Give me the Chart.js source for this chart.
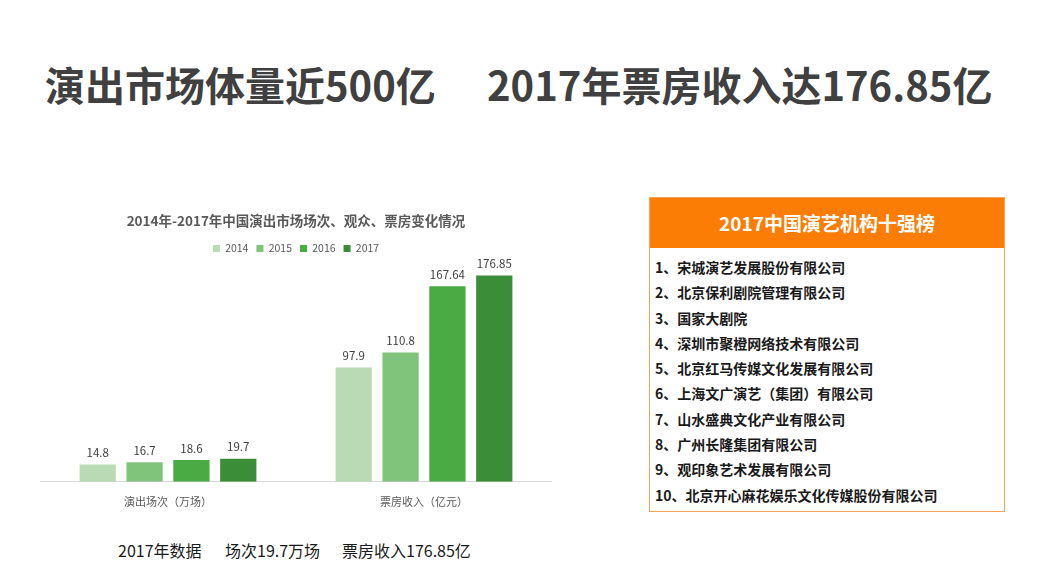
<!DOCTYPE html>
<html>
<head>
<meta charset="utf-8">
<script src="https://cdn.jsdelivr.net/npm/chart.js@4/dist/chart.umd.min.js"></script>
<style>
  body { margin: 0; width: 1047px; height: 581px; background: #fff; position: relative; overflow: hidden;
         font-family: "Noto Sans CJK SC", "Noto Sans", sans-serif; }
  .headline { position: absolute; top: 56px; font-size: 40px; font-weight: bold; color: #404040;
              white-space: nowrap; line-height: 56px; }
  #chartBox { position: absolute; left: 40px; top: 205px; width: 512px; height: 308px; }
  #rank { position: absolute; left: 649px; top: 197px; width: 354px; height: 313px; border: 1px solid #f5a25d; }
  #rank .head { background: #fb7d05; color: #fff; height: 50px; line-height: 50px; text-align: center;
                font-size: 19px; font-weight: bold; }
  #rank ol { list-style: none; margin: 0; padding: 7px 0 0 5px; }
  #rank li { font-size: 14px; font-weight: bold; color: #1a1a1a; height: 25.3px; line-height: 25.3px; white-space: nowrap; }
  .foot { position: absolute; top: 537px; font-size: 16px; color: #1a1a1a; white-space: nowrap; line-height: 26px; }
</style>
</head>
<body>
<div class="headline" style="left:45px">演出市场体量近500亿</div>
<div class="headline" style="left:487px">2017年票房收入达176.85亿</div>
<div id="chartBox"><canvas id="c"></canvas></div>
<div id="rank">
  <div class="head">2017中国演艺机构十强榜</div>
  <ol id="rankList"></ol>
</div>
<div class="foot" style="left:118px">2017年数据</div>
<div class="foot" style="left:225px">场次19.7万场</div>
<div class="foot" style="left:342px">票房收入176.85亿</div>
<script>
const categories = ["演出场次（万场）", "票房收入（亿元）"];
const years = ["2014", "2015", "2016", "2017"];
const values2014 = [14.8, 97.9];
const values2015 = [16.7, 110.8];
const values2016 = [18.6, 167.64];
const values2017 = [19.7, 176.85];
const yearColors = ["#b9dbb3", "#80c47b", "#4aaa44", "#3b8e37"];
const topTen = [
  "1、宋城演艺发展股份有限公司",
  "2、北京保利剧院管理有限公司",
  "3、国家大剧院",
  "4、深圳市聚橙网络技术有限公司",
  "5、北京红马传媒文化发展有限公司",
  "6、上海文广演艺（集团）有限公司",
  "7、山水盛典文化产业有限公司",
  "8、广州长隆集团有限公司",
  "9、观印象艺术发展有限公司",
  "10、北京开心麻花娱乐文化传媒股份有限公司"
];

const list = document.getElementById("rankList");
topTen.forEach(t => {
  const li = document.createElement("li");
  li.textContent = t;
  list.appendChild(li);
});

const seriesValues = [values2014, values2015, values2016, values2017];

// value labels above each bar
const barLabels = {
  id: "barLabels",
  afterDatasetsDraw(chart) {
    const ctx = chart.ctx;
    ctx.save();
    ctx.font = "11.5px 'Noto Sans CJK SC', sans-serif";
    ctx.fillStyle = "#404040";
    ctx.textAlign = "center";
    ctx.textBaseline = "bottom";
    chart.data.datasets.forEach((ds, i) => {
      chart.getDatasetMeta(i).data.forEach((bar, j) => {
        ctx.fillText(String(ds.data[j]), bar.x, bar.y - 6);
      });
    });
    ctx.restore();
  }
};

new Chart(document.getElementById("c"), {
  type: "bar",
  data: {
    labels: categories,
    datasets: years.map((y, i) => ({
      label: y,
      data: seriesValues[i],
      backgroundColor: yearColors[i],
      barPercentage: 0.774,
      categoryPercentage: 0.732
    }))
  },
  options: {
    responsive: true,
    maintainAspectRatio: false,
    animation: false,
    layout: { padding: { left: 0, right: 0, top: 0, bottom: 0 } },
    plugins: {
      tooltip: { enabled: false },
      title: {
        display: true,
        text: "2014年-2017年中国演出市场场次、观众、票房变化情况",
        color: "#595959",
        font: { size: 13.5, weight: "bold", family: "Noto Sans CJK SC" },
        padding: { top: 8, bottom: 6 }
      },
      legend: {
        display: true,
        labels: {
          boxWidth: 7,
          boxHeight: 7,
          color: "#595959",
          font: { size: 10.5, family: "Noto Sans CJK SC" },
          padding: 8
        }
      }
    },
    scales: {
      x: {
        grid: { display: false },
        border: { color: "#d9d9d9" },
        ticks: { color: "#595959", font: { size: 11, family: "Noto Sans CJK SC" }, padding: 5 }
      },
      y: {
        display: false,
        min: 0,
        max: 187
      }
    }
  },
  plugins: [barLabels]
});
</script>
</body>
</html>
